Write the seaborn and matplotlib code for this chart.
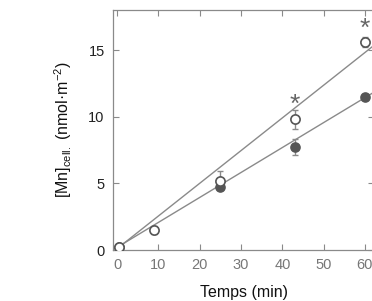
import matplotlib
matplotlib.use("Agg")
import matplotlib.pyplot as plt
import seaborn as sns
import pandas as pd

time_min = [0.5, 9, 25, 43, 60]
open_vals = [0.2, 1.5, 5.2, 9.8, 15.6]
open_err = [0.1, 0.3, 0.7, 0.7, 0.35]
filled_time = [0.5, 25, 43, 60]
filled_vals = [0.2, 4.7, 7.7, 11.5]
filled_err = [0.1, 0.15, 0.6, 0.2]
fit_x = [0, 62]
fit_open = [0.1, 15.3]
fit_filled = [0.2, 11.8]
star_x = [43, 60]
star_y = [10.85, 16.55]
xticks = [0, 10, 20, 30, 40, 50, 60]
yticks = [0, 5, 10, 15]

sns.set_style("ticks")
plt.rcParams['font.family'] = ['Liberation Sans', 'DejaVu Sans']

fig = plt.figure(figsize=(3.72, 3.01), dpi=100)
W, H = 372, 301
left, right, top, bottom = 113, 374, 10, 250
ax = fig.add_axes([left / W, 1 - bottom / H, (right - left) / W, (bottom - top) / H])

line_c = "#8a8a8a"
dark = "#555555"

fits = pd.DataFrame({"x": fit_x * 2, "y": fit_open + fit_filled,
                     "s": ["open"] * 2 + ["filled"] * 2})
sns.lineplot(data=fits, x="x", y="y", units="s", estimator=None, color=line_c,
             lw=1.0, ax=ax, legend=False)

ax.errorbar(time_min, open_vals, yerr=open_err, fmt="none", ecolor=line_c,
            elinewidth=1, capsize=2.5, zorder=3)
ax.errorbar(filled_time, filled_vals, yerr=filled_err, fmt="none", ecolor=line_c,
            elinewidth=1, capsize=2.5, zorder=3)

sns.scatterplot(x=filled_time, y=filled_vals, color=dark, edgecolor=dark, s=44,
                ax=ax, zorder=4, linewidth=1)
sns.scatterplot(x=time_min, y=open_vals, color="white", edgecolor=dark, s=44,
                ax=ax, zorder=5, linewidth=1.2)

for sx, sy in zip(star_x, star_y):
    ax.text(sx, sy, "*", ha="center", va="center", fontsize=19, color="#666666")

ax.set_xlim(-1, 62.2)
ax.set_ylim(0, 18)
ax.set_xticks(xticks)
ax.set_yticks(yticks)
ax.tick_params(direction="in", top=True, right=True, length=4, width=0.8,
               color=line_c, labelsize=10.5)
ax.tick_params(axis="x", labelcolor="#777777", pad=6)
ax.tick_params(axis="y", labelcolor="#222222", pad=6)
for sp in ax.spines.values():
    sp.set_color(line_c)
    sp.set_linewidth(0.9)

ax.set_xlabel("Temps (min)", fontsize=11.5, labelpad=9, color="#111111")
ax.set_ylabel(r"[Mn]$_{\mathregular{cell.}}$ (nmol·m$^{\mathregular{-2}}$)",
              fontsize=11.5, labelpad=10, color="#111111")

fig.savefig("out.png", dpi=100)
